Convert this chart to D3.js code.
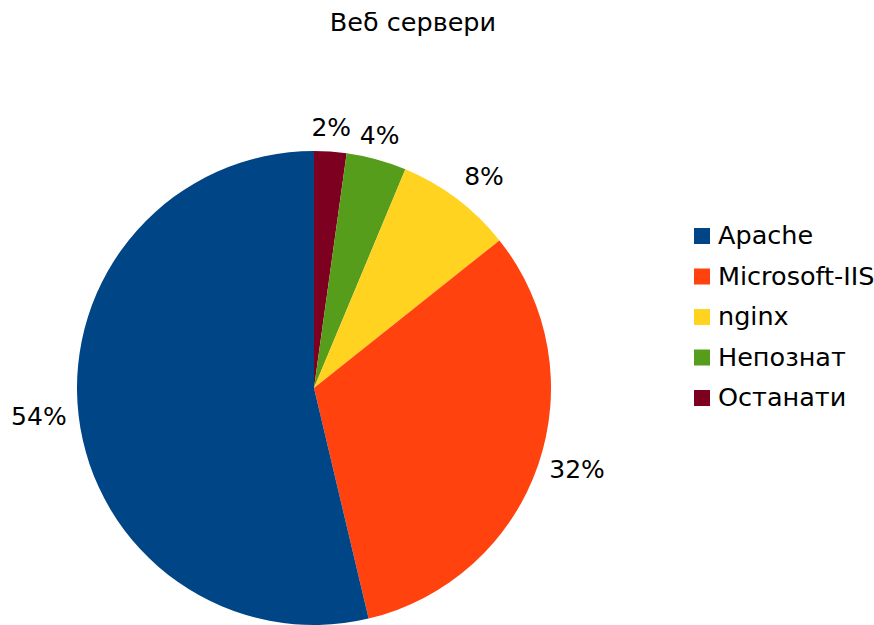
<!DOCTYPE html>
<html lang="mk">
<head>
<meta charset="UTF-8">
<title>Веб сервери</title>
<script src="https://d3js.org/d3.v7.min.js"></script>
<style>
  body { margin: 0; background: #fff; }
  text { font-family: "DejaVu Sans", sans-serif; fill: #000; }
</style>
</head>
<body>
<script>
// data (share of web servers, %)
const servers = ['Apache', 'Microsoft-IIS', 'nginx', 'Непознат', 'Останати'];
const shares = [53.7, 32.0, 8.0, 4.1, 2.2];
const colors = ['#004586', '#ff420e', '#ffd320', '#579d1c', '#7e0021'];
const title = 'Веб сервери';

const w = 874, h = 625;
const cx = 314, cy = 388, r = 237;

const svg = d3.select('body').append('svg')
    .attr('width', w)
    .attr('height', h);

svg.append('text')
    .attr('x', 413)
    .attr('y', 31)
    .attr('text-anchor', 'middle')
    .style('font-size', '25.5px')
    .text(title);

const data = servers.map((name, i) => ({ name, value: shares[i], color: colors[i] }));

// slices go clockwise from 12 o'clock in reverse legend order
const pie = d3.pie()
    .value(d => d.value)
    .sort(null);
const arcs = pie(data.slice().reverse());

const arc = d3.arc().innerRadius(0).outerRadius(r);

const g = svg.append('g').attr('transform', `translate(${cx},${cy})`);

g.selectAll('path')
    .data(arcs)
    .enter()
    .append('path')
    .attr('d', arc)
    .attr('fill', d => d.data.color);

// percentage labels just outside the rim
const lr = r + 12;
g.selectAll('text.pct')
    .data(arcs)
    .enter()
    .append('text')
    .attr('class', 'pct')
    .style('font-size', '25px')
    .each(function(d) {
        const a = (d.startAngle + d.endAngle) / 2;
        const s = Math.sin(a), c = Math.cos(a);
        const t = d3.select(this)
            .attr('x', lr * s)
            .attr('y', -lr * c - (c > 0.5 ? 4 : 0))
            .text(Math.round(d.data.value) + '%');
        t.attr('text-anchor', Math.abs(s) < 0.3 ? 'middle' : (s > 0 ? 'start' : 'end'));
        if (c > 0.5) t.attr('dominant-baseline', 'auto');
        else if (c < -0.5) t.attr('dominant-baseline', 'hanging');
        else t.attr('dominant-baseline', 'central');
    });

// legend
const legend = svg.append('g').attr('transform', 'translate(694,228)');
const rows = legend.selectAll('g')
    .data(data)
    .enter()
    .append('g')
    .attr('transform', (d, i) => `translate(0,${i * 40.5})`);
rows.append('rect')
    .attr('width', 16)
    .attr('height', 16)
    .attr('fill', d => d.color);
rows.append('text')
    .attr('x', 24)
    .attr('y', 16)
    .style('font-size', '25.5px')
    .text(d => d.name);
</script>
</body>
</html>
